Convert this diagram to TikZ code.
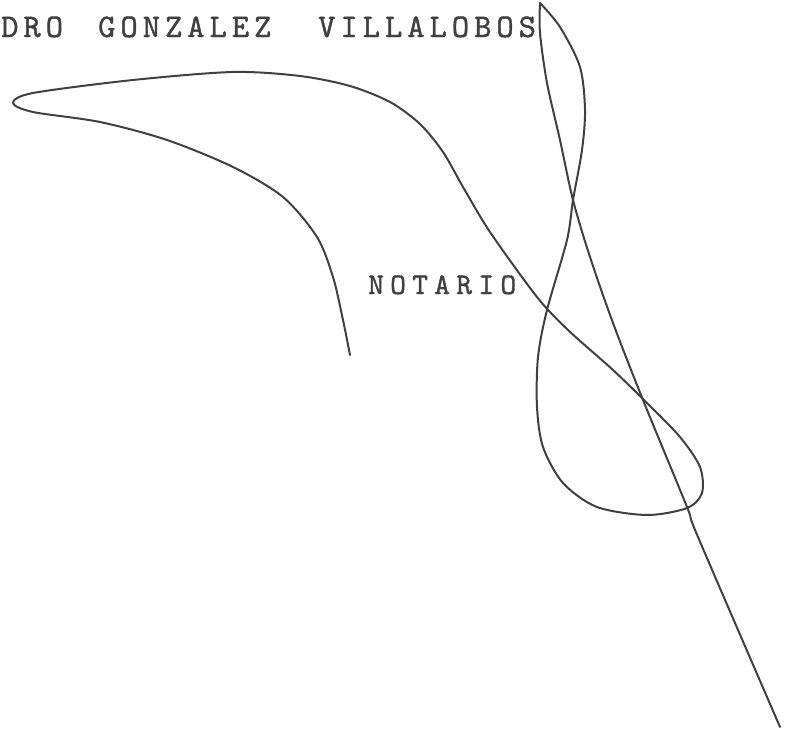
\documentclass[tikz,border=0pt]{standalone}
\usepackage{fontspec}
\newfontfamily\typerfont[LetterSpace=15,FakeBold=1.2]{lmmono10-regular.otf}
\newfontfamily\typersmall[LetterSpace=21,FakeBold=1.2]{lmmono10-regular.otf}
\usepackage{tikz}
\tikzset{pen/.style={smooth,line width=2pt,black!75,line cap=round,line join=round}}
\tikzset{typed/.style={inner sep=0pt,anchor=base west,black!75,font=\typerfont\fontsize{33}{33}\selectfont}}

\begin{document}
\begin{tikzpicture}[x=1pt,y=-1pt] %一个像素一个点
            \useasboundingbox (0,0) rectangle (785,739);
            \node[typed] (dro) at (1,37) {DRO};
            \node[typed] (gonzalez) at (98,37) {GONZALEZ};
            \node[typed] (villalobos) at (318,37) {VILLALOBOS};
            \node[typed,font=\typersmall\fontsize{30}{30}\selectfont] (notario) at (368,294) {NOTARIO};
            % trazo izquierdo y lazo de abajo
            \draw[pen] plot coordinates {(350,355) (343,320) (333,277) (317,237) (283,197) (233,167) (167,140) (100,122) (33,112) (13,103)
                (33,93) (133,80) (233,72) (300,76) (350,86) (390,102) (420,124) (443,152) (463,187) (490,232) (537,297)
                (568,330) (613,370) (647,403) (680,437) (700,467) (702,493) (687,508) (647,515) (597,507) (563,483) (543,447)
                (537,407) (538,357) (547,310) (567,240) (573,200) (582,150) (585,110) (580,67) (560,27) (540,3)};
            % la raya larga
            \draw[pen] plot coordinates {(540,3) (540,33) (547,83) (560,140) (573,200) (590,257) (613,323) (643,400) (687,507) (698,537) (780,727)};
        \end{tikzpicture}
\end{document}
